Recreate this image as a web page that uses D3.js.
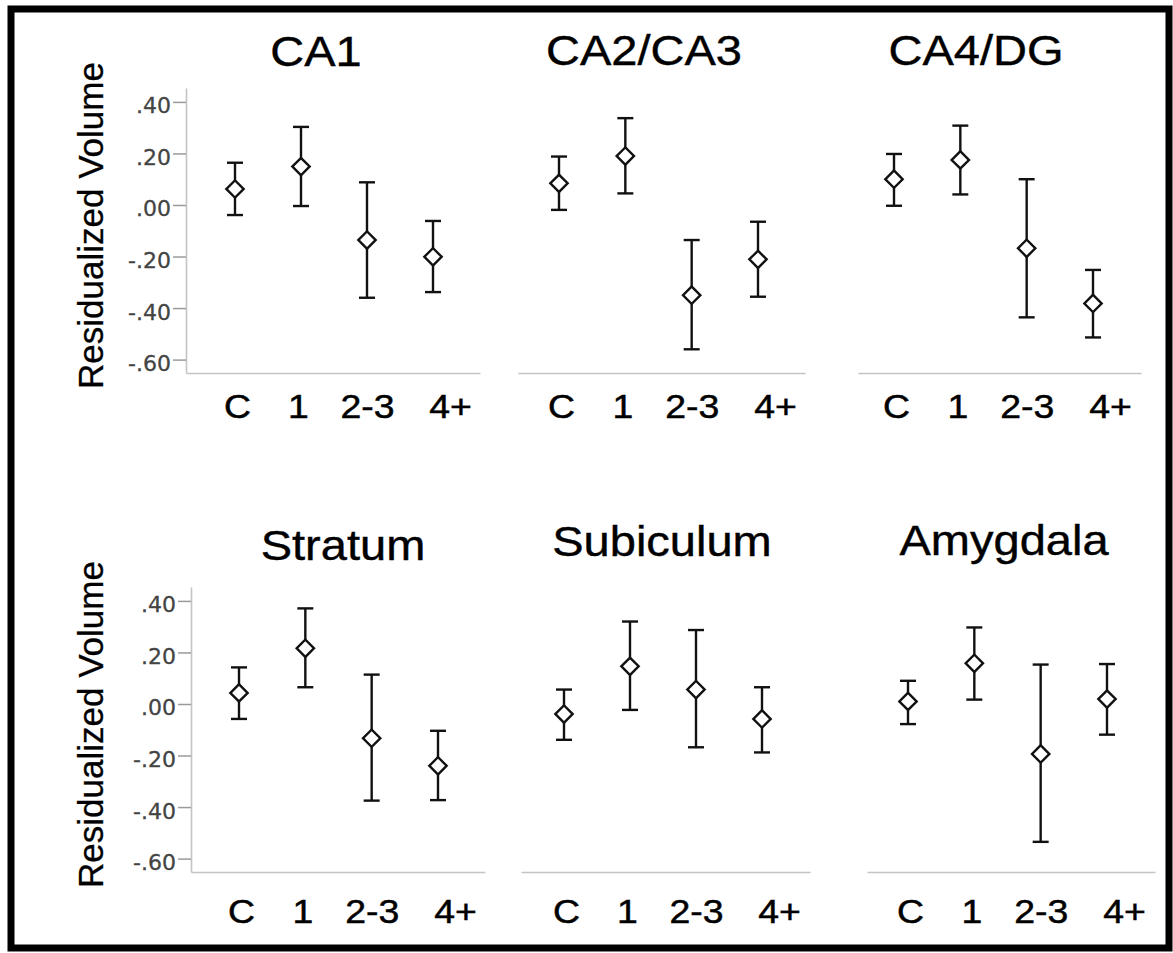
<!DOCTYPE html>
<html>
<head>
<meta charset="utf-8">
<script src="https://cdn.jsdelivr.net/npm/d3@7"></script>
<style>
  html, body { margin: 0; padding: 0; background: #fff; }
  svg { display: block; }
</style>
</head>
<body>
<script>
// ---------------- DATA ----------------
const categories = ["C", "1", "2-3", "4+"];
const regions = ["CA1", "CA2/CA3", "CA4/DG", "Stratum", "Subiculum", "Amygdala"];
const yTickValues = [0.4, 0.2, 0, -0.2, -0.4, -0.6];
const yAxisTitle = "Residualized Volume";

// group means (diamonds), one row per region, in category order
const meanValues = [
  [0.062, 0.149, -0.136, -0.201],
  [0.084, 0.190, -0.350, -0.211],
  [0.100, 0.175, -0.168, -0.382],
  [0.043, 0.216, -0.133, -0.240],
  [-0.039, 0.146, 0.056, -0.058],
  [0.010, 0.158, -0.194, 0.019]
];
// lower ends of error bars
const lowerValues = [
  [-0.039, -0.004, -0.360, -0.338],
  [-0.019, 0.045, -0.560, -0.356],
  [-0.003, 0.041, -0.436, -0.514],
  [-0.058, 0.065, -0.375, -0.373],
  [-0.139, -0.023, -0.168, -0.188],
  [-0.078, 0.017, -0.535, -0.119]
];
// upper ends of error bars
const upperValues = [
  [0.164, 0.303, 0.088, -0.062],
  [0.188, 0.337, -0.136, -0.065],
  [0.198, 0.308, 0.100, -0.252],
  [0.142, 0.371, 0.114, -0.104],
  [0.056, 0.320, 0.287, 0.065],
  [0.090, 0.297, 0.153, 0.155]
];
const yDomain = [-0.652, 0.454];

// ---------------- LAYOUT ----------------
const W = 1173, H = 953;
const rows = [
  { top: 88, bottom: 373, labelBase: 418 },
  { top: 587, bottom: 872, labelBase: 923 }
];
const panels = [
  { row: 0, ax0: 186, ax1: 480, p0: 235, p1: 433, yAxis: true,  tx: 316, tb: 66 },
  { row: 0, ax0: 518, ax1: 805, p0: 559, p1: 758, yAxis: false, tx: 644, tb: 65 },
  { row: 0, ax0: 858, ax1: 1141, p0: 894, p1: 1093, yAxis: false, tx: 976, tb: 65 },
  { row: 1, ax0: 191, ax1: 485, p0: 239, p1: 438, yAxis: true,  tx: 343, tb: 560 },
  { row: 1, ax0: 521, ax1: 810, p0: 564, p1: 762, yAxis: false, tx: 662, tb: 556 },
  { row: 1, ax0: 867, ax1: 1155, p0: 908, p1: 1107, yAxis: false, tx: 1004, tb: 555 }
];
const labelShift = { "C": 2, "1": -3, "2-3": 0, "4+": 17 };

const svg = d3.select("body").append("svg")
  .attr("width", W).attr("height", H);

svg.append("rect").attr("width", W).attr("height", H).attr("fill", "#fff");

// frame
svg.append("rect")
  .attr("x", 11).attr("y", 9)
  .attr("width", 1158).attr("height", 939)
  .attr("fill", "none").attr("stroke", "#000").attr("stroke-width", 7);

const fmt = v => (v < 0 ? "-" : "") + Math.abs(v).toFixed(2).replace(/^0/, "");
const diamond = d3.symbol().type(d3.symbolSquare).size(150);

panels.forEach((p, i) => {
  const r = rows[p.row];
  const y = d3.scaleLinear().domain(yDomain).range([r.bottom, r.top]);
  const x = d3.scalePoint().domain(categories).range([p.p0, p.p1]);
  const g = svg.append("g");

  // x axis line
  const xl = d3.scaleLinear().domain([0, 1]).range([p.ax0, p.ax1]);
  const xAxisG = g.append("g")
    .attr("transform", `translate(0,${r.bottom})`)
    .call(d3.axisBottom(xl).tickValues([]).tickSizeOuter(0));
  xAxisG.select(".domain").attr("stroke", "#c4c4c4").attr("stroke-width", 1.6);

  // x category labels
  const xLab = g.append("g")
    .attr("transform", `translate(0,${r.labelBase})`)
    .call(d3.axisBottom(x).tickSize(0).tickPadding(0));
  xLab.select(".domain").remove();
  xLab.selectAll(".tick text")
    .attr("y", 0).attr("dy", 0)
    .attr("font-family", "'Liberation Sans', Arial, sans-serif")
    .attr("font-size", 34)
    .attr("fill", "#000")
    .attr("stroke", "#000").attr("stroke-width", 0.5)
    .attr("transform", d => `translate(${labelShift[d]},0) scale(1.1,1)`);

  // y axis
  if (p.yAxis) {
    const yAx = g.append("g")
      .attr("transform", `translate(${p.ax0},0)`)
      .call(d3.axisLeft(y).tickValues(yTickValues).tickFormat(fmt)
        .tickSize(13).tickSizeOuter(0).tickPadding(2));
    yAx.select(".domain").attr("stroke", "#c4c4c4").attr("stroke-width", 1.6);
    yAx.selectAll(".tick line").attr("stroke", "#9a9a9a").attr("stroke-width", 1.5);
    yAx.selectAll(".tick text")
      .attr("font-family", "'DejaVu Sans', Verdana, sans-serif")
      .attr("font-size", 22)
      .attr("fill", "#444")
      .attr("stroke", "#444").attr("stroke-width", 0.3)
      .attr("dy", "0.5em");

    svg.append("text")
      .attr("transform", `translate(103,${(r.top + r.bottom) / 2 - 5}) rotate(-90)`)
      .attr("text-anchor", "middle")
      .attr("font-family", "'Liberation Sans', Arial, sans-serif")
      .attr("font-size", 35)
      .attr("fill", "#000")
      .attr("stroke", "#000").attr("stroke-width", 0.3)
      .text(yAxisTitle);
  }

  // title
  svg.append("text")
    .attr("transform", `translate(${p.tx},${p.tb}) scale(1.12,1)`)
    .attr("text-anchor", "middle")
    .attr("font-family", "'Liberation Sans', Arial, sans-serif")
    .attr("font-size", 42)
    .attr("fill", "#000")
    .attr("stroke", "#000").attr("stroke-width", 0.4)
    .text(regions[i]);

  // error bars
  const data = categories.map((c, j) => ({
    c, m: meanValues[i][j], lo: lowerValues[i][j], hi: upperValues[i][j]
  }));
  const eb = g.selectAll(".eb").data(data).enter().append("g");
  eb.append("line")
    .attr("x1", d => x(d.c)).attr("x2", d => x(d.c))
    .attr("y1", d => y(d.lo)).attr("y2", d => y(d.hi))
    .attr("stroke", "#111").attr("stroke-width", 2.4);
  ["lo", "hi"].forEach(k => {
    eb.append("line")
      .attr("x1", d => x(d.c) - 8).attr("x2", d => x(d.c) + 8)
      .attr("y1", d => y(d[k])).attr("y2", d => y(d[k]))
      .attr("stroke", "#111").attr("stroke-width", 2.4);
  });
  eb.append("path")
    .attr("d", diamond)
    .attr("transform", d => `translate(${x(d.c)},${y(d.m)}) rotate(45)`)
    .attr("fill", "#fff").attr("stroke", "#111").attr("stroke-width", 2.4);
});
</script>
</body>
</html>
